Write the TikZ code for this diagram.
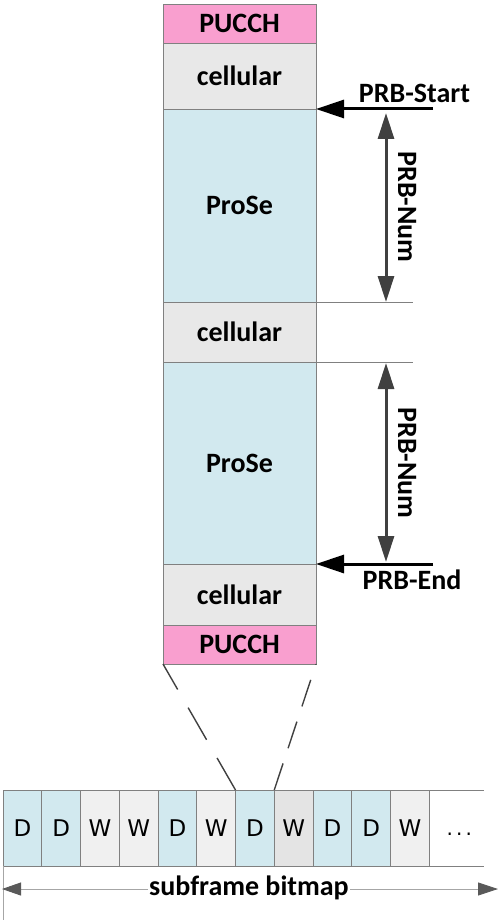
\documentclass[tikz,border=0pt]{standalone}
\usepackage{fontspec}
\setmainfont{Carlito}
\newfontfamily\djfont{DejaVu Sans}
\usetikzlibrary{arrows.meta}
\definecolor{pucchc}{HTML}{F99FCF}
\definecolor{cellc}{HTML}{E8E8E8}
\definecolor{prosec}{HTML}{D2E9EF}
\definecolor{wc}{HTML}{F0F0F0}
\definecolor{wdc}{HTML}{E4E4E4}
\definecolor{bordc}{HTML}{808080}
\definecolor{darkc}{HTML}{404040}
\definecolor{arrc}{HTML}{595959}
\definecolor{linec}{HTML}{A6A6A6}
\begin{document}
\begin{tikzpicture}[x=1pt,y=-1pt,
  blk/.style={draw=bordc, line width=0.7pt, minimum width=153pt, inner sep=0pt, outer sep=0pt,
    font=\fontsize{28}{28}\selectfont\bfseries, anchor=north},
  lbl/.style={inner sep=0pt, font=\fontsize{28}{28}\selectfont\bfseries},
  cellbox/.style={draw=bordc, line width=0.7pt, minimum width=38.75pt, minimum height=76pt,
    inner sep=0pt, outer sep=0pt, anchor=north west, font=\fontsize{23}{23}\djfont},
  thinline/.style={draw=bordc, line width=0.6pt},
  blackarrow/.style={line width=3pt, -{Triangle[length=28pt,width=18pt]}},
  numarrow/.style={draw=darkc, line width=3pt, {Triangle[length=26pt,width=16pt]}-{Triangle[length=26pt,width=16pt]}},
  dashline/.style={draw=darkc, line width=1.4pt}
]
\useasboundingbox (0,0) rectangle (503,920);
% column
\node[blk, fill=pucchc, minimum height=39pt] (pucch1) at (239.5,4) {PUCCH};
\node[blk, fill=cellc, minimum height=66pt] (cell1) at (pucch1.south) {cellular};
\node[blk, fill=prosec, minimum height=193pt] (prose1) at (cell1.south) {ProSe};
\node[blk, fill=cellc, minimum height=60pt] (cell2) at (prose1.south) {cellular};
\node[blk, fill=prosec, minimum height=202pt] (prose2) at (cell2.south) {ProSe};
\node[blk, fill=cellc, minimum height=61pt] (cell3) at (prose2.south) {cellular};
\node[blk, fill=pucchc, minimum height=39pt] (pucch2) at (cell3.south) {PUCCH};
% extended lines
\coordinate (ext1) at (413,302);
\coordinate (ext2) at (413,362);
\draw[thinline] (prose1.south east) -- (ext1);
\draw[thinline] (prose2.north east) -- (ext2);
% PRB-Start
\coordinate (ps) at (433,109);
\draw[blackarrow] (ps) -- (prose1.north east);
\node[lbl] (pstext) at (414.5,93) {PRB-Start};
% PRB-Num 1
\coordinate (n1t) at (386,113);
\coordinate (n1b) at (386,302);
\draw[numarrow] (n1t) -- (n1b);
\node[lbl, rotate=-90] (num1) at (407,207) {PRB-Num};
% PRB-Num 2
\coordinate (n2t) at (386,363);
\coordinate (n2b) at (386,562);
\draw[numarrow] (n2t) -- (n2b);
\node[lbl, rotate=-90] (num2) at (407,463) {PRB-Num};
% PRB-End
\coordinate (pe) at (433,564);
\draw[blackarrow] (pe) -- (prose2.south east);
\node[lbl] (petext) at (412,580) {PRB-End};
% bitmap
\foreach \lab/\col [count=\i] in {D/prosec,D/prosec,W/wc,W/wc,D/prosec,W/wc,D/prosec,W/wdc,D/prosec,D/prosec,W/wc}{
  \node[cellbox, fill=\col] (b\i) at ({3+38.75*(\i-1)},790) {\lab};
}
\coordinate (etop) at (484,790);
\coordinate (ebot) at (484,866);
\draw[thinline] (b11.north east) -- (etop);
\draw[thinline] (b11.south east) -- (ebot);
\node[inner sep=0pt, font=\fontsize{20}{20}\djfont, anchor=base] (dots) at (459.3,835) {.\kern3.2pt.\kern3.2pt.};
% dashed connectors
\draw[dashline, dash pattern=on 37pt off 21pt] (b7.north west) -- (pucch2.south west);
\draw[dashline, dash pattern=on 28pt off 16pt] (b7.north east) -- (pucch2.south east);
% subframe bitmap
\coordinate (tickb) at (3,920);
\draw[draw=linec, line width=0.8pt] (b1.south west) -- (tickb);
\coordinate (sl) at (2,889);
\coordinate (sr) at (498,889);
\draw[draw=linec, line width=0.9pt, {Triangle[length=19pt,width=13pt,fill=arrc,color=arrc]}-{Triangle[length=20pt,width=13pt,fill=arrc,color=arrc]}] (sl) -- (sr);
\node[lbl, fill=white, inner xsep=1pt, inner ysep=0pt] (sbtext) at (249,888) {subframe bitmap};
\end{tikzpicture}
\end{document}
